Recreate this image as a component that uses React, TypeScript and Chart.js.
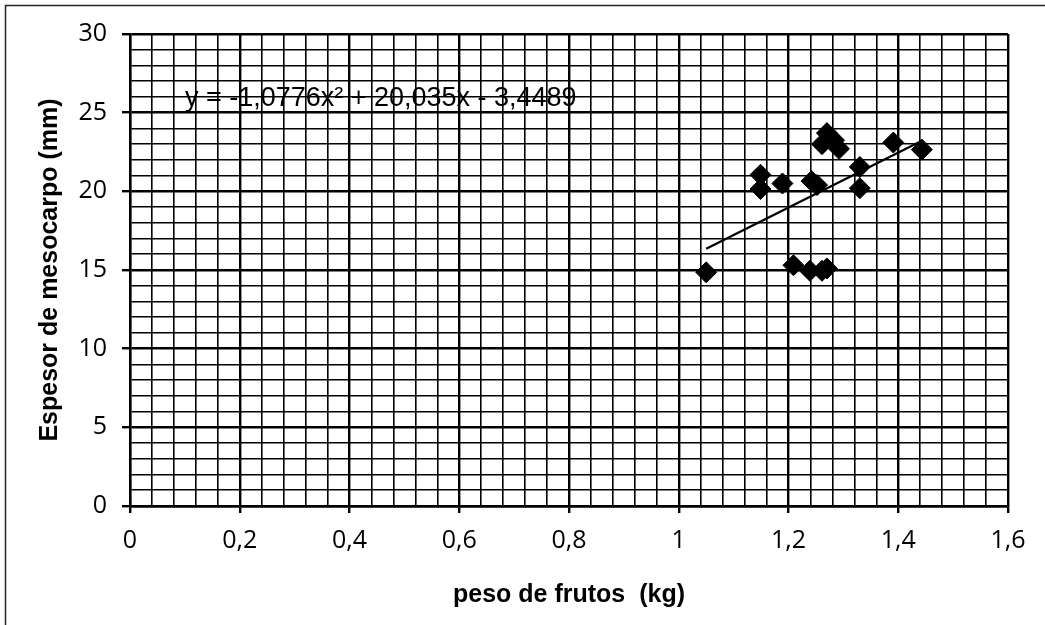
import React, { useEffect, useRef } from "react";
import { Chart, registerables } from "chart.js";

Chart.register(...registerables);

// ---- data ----
const pesoFrutos = [1.05, 1.149, 1.149, 1.189, 1.242, 1.252, 1.27, 1.261, 1.283, 1.292, 1.33, 1.33, 1.391, 1.443, 1.209, 1.239, 1.261, 1.27];
const espesorMesocarpo = [14.85, 21.05, 20.15, 20.5, 20.65, 20.4, 23.7, 23.0, 23.25, 22.7, 21.55, 20.2, 23.1, 22.65, 15.3, 14.95, 14.95, 15.1];
const trendX = [1.05, 1.445];
const trendY = [16.35, 23.25];
const equationText = "y = -1,0776x² + 20,035x - 3,4489";
const equationAnchor = [0.1, 25.9];
const xTitle = "peso de frutos  (kg)";
const yTitle = "Espesor de mesocarpo (mm)";
const xRange = [0, 1.6];
const xStep = 0.04;
const xLabelEvery = 0.2;
const yRange = [0, 30];
const yStep = 1;
const yLabelEvery = 5;

const isMajor = (v: number, every: number) => Math.abs(v / every - Math.round(v / every)) < 1e-6;
const fmt = (v: number) => String(Math.round(v * 10) / 10).replace(".", ",");

const TICK_FONT = { family: "'Open Sans', sans-serif", size: 25 };
const TITLE_FONT = { family: "'Liberation Sans', Arial, sans-serif", size: 25, weight: "bold" as const };

export default function App() {
  const ref = useRef<HTMLCanvasElement | null>(null);

  useEffect(() => {
    document.body.style.margin = "0";
    const canvas = ref.current;
    if (!canvas) return;

    const framePlugin = {
      id: "frame",
      beforeDraw(chart: any) {
        const c = chart.ctx;
        c.save();
        c.strokeStyle = "#222";
        c.lineWidth = 1.5;
        c.strokeRect(5.5, 5.5, 1200, 800);
        c.restore();
      },
    };

    const equationPlugin = {
      id: "equation",
      afterDatasetsDraw(chart: any) {
        const c = chart.ctx;
        const xs = chart.scales.x;
        const ys = chart.scales.y;
        c.save();
        c.font = "27px 'Liberation Sans', Arial, sans-serif";
        c.fillStyle = "#000";
        c.textAlign = "left";
        c.textBaseline = "middle";
        c.fillText(equationText, xs.getPixelForValue(equationAnchor[0]), ys.getPixelForValue(equationAnchor[1]));
        c.restore();
      },
    };

    const chart = new Chart(canvas, {
      type: "scatter",
      data: {
        datasets: [
          {
            label: "datos",
            data: pesoFrutos.map((x, i) => ({ x, y: espesorMesocarpo[i] })),
            pointStyle: "rectRot",
            pointRadius: 10.5,
            pointBackgroundColor: "#000",
            pointBorderColor: "#000",
            pointBorderWidth: 1,
            showLine: false,
            order: 1,
          },
          {
            label: "tendencia",
            type: "line",
            data: trendX.map((x, i) => ({ x, y: trendY[i] })),
            borderColor: "#000",
            borderWidth: 2.2,
            pointRadius: 0,
            fill: false,
            order: 0,
          } as any,
        ],
      },
      options: {
        responsive: false,
        animation: false,
        layout: { padding: { top: 34, right: 37, left: 0, bottom: 0 } },
        plugins: {
          legend: { display: false },
          tooltip: { enabled: false },
        },
        scales: {
          x: {
            type: "linear",
            min: xRange[0],
            max: xRange[1],
            afterFit(scale: any) {
              scale.height = 119;
            },
            ticks: {
              stepSize: xStep,
              autoSkip: false,
              maxRotation: 0,
              color: "#000",
              font: TICK_FONT,
              padding: 13,
              callback: (v: any) => (isMajor(Number(v), xLabelEvery) ? fmt(Number(v)) : ""),
            },
            grid: {
              color: "#000",
              lineWidth: (ctx: any) => (isMajor(ctx.tick.value, xLabelEvery) ? 2.4 : 1.6),
              tickLength: 7,
              tickColor: (ctx: any) => (isMajor(ctx.tick.value, xLabelEvery) ? "#000" : "rgba(0,0,0,0)"),
            },
            border: { display: true, color: "#000", width: 2.4 },
            title: {
              display: true,
              text: xTitle,
              color: "#000",
              font: TITLE_FONT,
              padding: { top: 0, bottom: 15 },
            },
          },
          y: {
            type: "linear",
            min: yRange[0],
            max: yRange[1],
            afterFit(scale: any) {
              scale.width = 130;
            },
            ticks: {
              stepSize: yStep,
              autoSkip: false,
              color: "#000",
              font: TICK_FONT,
              padding: 15,
              callback: (v: any) => (isMajor(Number(v), yLabelEvery) ? fmt(Number(v)) : ""),
            },
            grid: {
              color: "#000",
              lineWidth: (ctx: any) => (isMajor(ctx.tick.value, yLabelEvery) ? 2.4 : 1.6),
              tickLength: 8,
              tickColor: (ctx: any) => (isMajor(ctx.tick.value, yLabelEvery) ? "#000" : "rgba(0,0,0,0)"),
            },
            border: { display: true, color: "#000", width: 2.4 },
            title: {
              display: true,
              text: yTitle,
              color: "#000",
              font: TITLE_FONT,
              padding: { top: 35, bottom: 0 },
            },
          },
        },
      },
      plugins: [framePlugin, equationPlugin],
    });

    return () => chart.destroy();
  }, []);

  return (
    <div style={{ width: 1045, height: 625, background: "#fff" }}>
      <canvas ref={ref} width={1045} height={625} style={{ display: "block" }} />
    </div>
  );
}
